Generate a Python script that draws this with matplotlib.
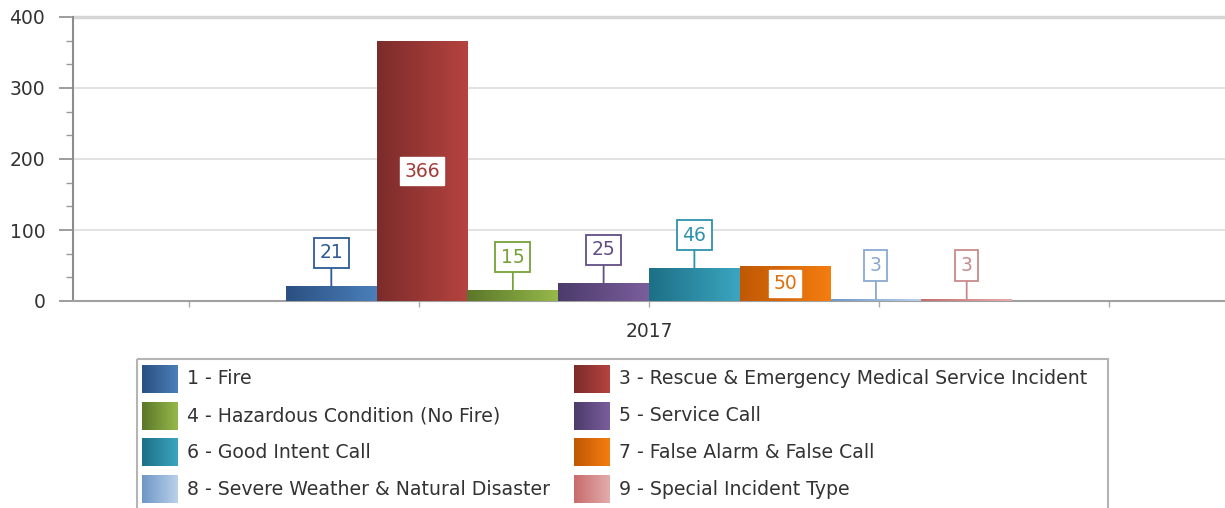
import numpy as np
import matplotlib
matplotlib.use('Agg')
import matplotlib.pyplot as plt
from matplotlib.patches import Rectangle
from matplotlib.colors import LinearSegmentedColormap

# data
year_label = '2017'
categories = ['1 - Fire',
              '3 - Rescue & Emergency Medical Service Incident',
              '4 - Hazardous Condition (No Fire)',
              '5 - Service Call',
              '6 - Good Intent Call',
              '7 - False Alarm & False Call',
              '8 - Severe Weather & Natural Disaster',
              '9 - Special Incident Type']
counts = [21, 366, 15, 25, 46, 50, 3, 3]

# gradient colours (dark left -> light right)
dark = ['#2b5081', '#7c2c2b', '#5c772a', '#4c3b6b', '#1d7086', '#c05804', '#6f97c6', '#c86c6c']
light = ['#4a7fba', '#b5433f', '#95b84a', '#7a5e9c', '#3ba5c0', '#f47d10', '#b9d0ea', '#e3acac']
label_col = ['#2f5b94', '#a33a37', '#77a03a', '#634e86', '#2e92ad', '#e06e0a', '#8aa9cf', '#c98a8a']
inside = [False, True, False, False, False, True, False, False]

plt.rcParams['font.family'] = 'DejaVu Sans'

W, H = 1225, 508
fig = plt.figure(figsize=(W/100, H/100), dpi=100)
ax = fig.add_axes([73/W, (H-301)/H, (W-73)/W, (301-17)/H])

bw = 0.3946
n = len(counts)
xs = (np.arange(n) - (n-1)/2.0) * bw
grad = np.linspace(0, 1, 64).reshape(1, -1)

for i in range(n):
    cmap = LinearSegmentedColormap.from_list('g%d' % i, [dark[i], light[i]])
    b = ax.bar(xs[i], counts[i], width=bw, color=light[i], edgecolor='none', zorder=2)[0]
    im = ax.imshow(grad, cmap=cmap, aspect='auto', zorder=3,
                   extent=(xs[i]-bw/2, xs[i]+bw/2, 0, counts[i]))
    im.set_clip_path(b)
    if inside[i]:
        ax.text(xs[i], counts[i]/2.0, str(counts[i]), ha='center', va='center',
                color=label_col[i], fontsize=13.5, zorder=5,
                bbox=dict(boxstyle='square,pad=0.22', fc='white', ec='white', lw=1))
    else:
        ax.annotate(str(counts[i]), xy=(xs[i], counts[i]), xytext=(0, 24),
                    textcoords='offset points', ha='center', va='center',
                    color=label_col[i], fontsize=13.5, zorder=5,
                    bbox=dict(boxstyle='square,pad=0.3', fc='white', ec=label_col[i], lw=1.3),
                    arrowprops=dict(arrowstyle='-', color=label_col[i], lw=1.3,
                                    shrinkA=0, shrinkB=0))

ax.set_xlim(-2.504, 2.504)
ax.set_ylim(0, 400)
ax.set_yticks([0, 100, 200, 300, 400])
ax.set_yticks(np.arange(0, 400, 100/3.0)[1:], minor=True)
ax.set_xticks([-2, -1, 0, 1, 2])
ax.set_xticklabels(['', '', year_label, '', ''])
ax.grid(axis='y', color='#dddddd', lw=1.2, zorder=0)
ax.set_axisbelow(True)
for s in ['top', 'right']:
    ax.spines[s].set_visible(False)
ax.spines['left'].set_color('#8c8c8c')
ax.spines['left'].set_linewidth(1.5)
ax.spines['bottom'].set_color('#a0a0a0')
ax.spines['bottom'].set_linewidth(1.5)
ax.tick_params(axis='y', which='major', length=10, width=1.2, color='#8c8c8c',
               labelsize=13.5, labelcolor='#333333', pad=10)
ax.tick_params(axis='y', which='minor', length=5, width=1, color='#9a9a9a')
ax.tick_params(axis='x', length=4, width=1, color='#aaaaaa', labelsize=13.5,
               labelcolor='#333333', pad=11)
ax.axhline(400, color='#d6d6d6', lw=2.5, zorder=1, clip_on=False)

# legend drawn in pixel coordinates
lax = fig.add_axes([0, 0, 1, 1])
lax.set_xlim(0, W)
lax.set_ylim(H, 0)
lax.axis('off')
lax.add_patch(Rectangle((137, 359), 1108-137, 160, fill=False, ec='#b4b4b4', lw=1.5))
for i, name in enumerate(categories):
    r, c = i // 2, i % 2
    x0 = 142 if c == 0 else 574
    y0 = 365 + r * 36.7
    cmap = LinearSegmentedColormap.from_list('l%d' % i, [dark[i], light[i]])
    lax.imshow(grad, cmap=cmap, aspect='auto', extent=(x0, x0+36, y0+28, y0))
    lax.text(x0 + 45, y0 + 14, name, ha='left', va='center', fontsize=13.6, color='#333333')
lax.set_xlim(0, W)
lax.set_ylim(H, 0)

fig.savefig('out.png', dpi=100)
